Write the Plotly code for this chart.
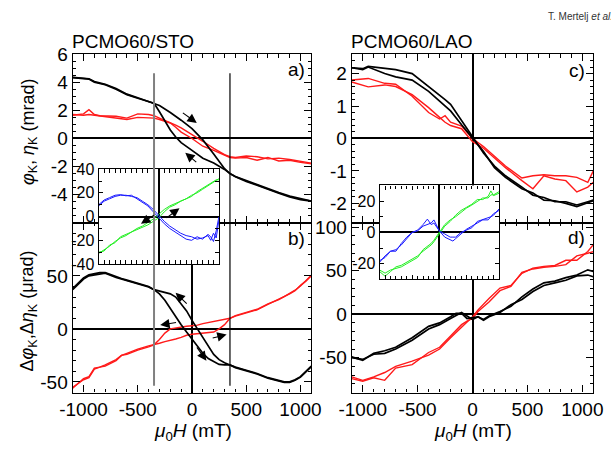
import plotly.graph_objects as go

# ---------------- data ----------------
# a) PCMO60/STO Kerr rotation (black) and ellipticity (red), mrad
H_A = [-1100, -1000, -950, -900, -850, -800, -700, -600, -500, -400, -350, -300, -200, -150,
       -100, 0, 100, 200, 300, 350, 400, 500, 600, 700, 800, 900, 1000, 1100]
phiA_up = [4.35, 4.28, 4.25, 4.05, 3.95, 3.85, 3.55, 3.15, 2.9, 2.65, 2.5, 2.35, 1.85, 1.6,
           1.3, 0.7, -0.1, -1.1, -2.15, -2.5, -2.7, -3.0, -3.3, -3.55, -3.85, -4.1, -4.3, -4.45]
phiA_dn = [4.32, 4.26, 4.22, 4.0, 3.92, 3.82, 3.5, 3.12, 2.86, 2.62, 2.5, 1.9, 0.6, 0.1,
           -0.3, -0.85, -1.4, -1.75, -2.2, -2.5, -2.72, -3.05, -3.35, -3.6, -3.9, -4.15, -4.35, -4.45]
etaA_up = [1.65, 1.75, 2.05, 1.7, 1.62, 1.6, 1.58, 1.45, 1.75, 1.7, 1.62, 1.45, 1.15, 0.95,
           0.75, 0.3, -0.2, -0.7, -1.15, -1.3, -1.35, -1.25, -1.3, -1.45, -1.4, -1.5, -1.6, -1.75]
etaA_dn = [1.7, 1.65, 1.7, 1.65, 1.6, 1.55, 1.5, 1.35, 1.5, 1.45, 1.45, 1.35, 1.1, 0.8,
           0.45, 0.0, -0.55, -0.85, -1.2, -1.35, -1.4, -1.35, -1.55, -1.35, -1.6, -1.55, -1.7, -1.8]

# b) PCMO60/STO differences, urad
H_B = [-1100, -1000, -950, -900, -850, -800, -700, -650, -600, -500, -400, -350, -300, -250,
       -200, -150, -100, -50, 0, 50, 100, 150, 200, 250, 300, 350, 400, 500, 600, 700, 800,
       850, 900, 950, 1000, 1050, 1100]
dphiB_up = [38, 48, 51, 52, 53, 53, 49, 47.5, 46, 43, 40, 37, 35.5, 34,
            33, 30, 24, 17, 8, 0, -9, -16, -24, -29, -32, -34, -36, -39, -42, -46, -49,
            -50, -50, -48, -45, -40, -35]
dphiB_dn = [37, 47, 50, 51, 52, 52.5, 48.5, 47, 45, 42.5, 39.5, 37, 33, 27,
            19, 12, 4, -3, -10, -17, -23, -28, -31, -33.5, -34, -34, -36.5, -39.5, -42.5, -46.5, -49.5,
            -50.5, -50.5, -48.5, -45.5, -40.5, -35.5]
detaB_up = [-55, -48, -46, -38, -36, -35, -30, -25, -24, -20, -17, -15, -10, -4,
            0, 1, 2, 2.5, 3, 3.5, 5, 6, 7, 8, 9.5, 10, 12, 15, 18, 23, 28,
            30, 33, 36, 41, 45, 50]
detaB_dn = [-56, -47, -45, -37, -36, -34, -29, -25, -23, -19, -16, -15, -13.5, -12,
            -11, -9.5, -8, -6, -5, -4.5, -4, -3.5, -3, 0, 4, 10, 12.5, 15.5, 18.5, 23.5, 27.5,
            30.5, 33.5, 36.5, 40.5, 45.5, 50.5]

# c) PCMO60/LAO Kerr rotation (black) and ellipticity (red), mrad
H_C = [-1100, -1000, -950, -800, -700, -550, -400, -300, -250, -200, -100, 0, 100, 200, 300,
       450, 550, 650, 750, 850, 950, 1050, 1100]
phiC_up = [2.18, 2.15, 2.22, 2.15, 2.12, 2.0, 1.6, 1.35, 1.2, 1.05, 0.55, 0.02, -0.45, -0.85, -1.15,
           -1.5, -1.75, -1.82, -1.95, -1.95, -2.05, -1.95, -1.9]
phiC_dn = [2.18, 2.12, 2.2, 2.0, 1.9, 1.8, 1.45, 1.15, 1.0, 0.85, 0.42, 0.0, -0.4, -0.9, -1.2,
           -1.55, -1.68, -1.9, -1.92, -2.0, -2.1, -1.98, -1.92]
etaC_up = [1.8, 1.82, 1.85, 1.7, 1.67, 1.3, 0.8, 0.6, 0.7, 0.5, 0.38, 0.0, -0.25, -0.55, -0.85,
           -1.22, -1.15, -1.12, -1.15, -1.15, -1.2, -1.35, -1.0]
etaC_dn = [1.74, 1.65, 1.59, 1.65, 1.6, 1.35, 0.95, 0.65, 0.5, 0.4, 0.3, -0.1, -0.3, -0.6, -0.9,
           -1.3, -1.55, -1.15, -1.25, -1.3, -1.65, -1.5, -1.35]

# d) PCMO60/LAO differences, urad
H_D = [-1100, -1000, -900, -800, -700, -550, -400, -300, -200, -150, -100, -50, 0, 50, 100,
       150, 250, 350, 450, 550, 650, 750, 850, 950, 1050, 1100]
dphiD_up = [-49, -53, -45, -42, -38, -27, -14, -10, -3, 1, 1, -5, -4, -3, -6,
            -2, 3, 9, 20, 29, 36, 38, 42, 45, 51, 49]
dphiD_dn = [-50, -52, -46, -45, -40, -30, -17, -12, -5, -1, 2, -2, -6, -3, -7,
            -3, 2, 11, 17, 26, 33, 36, 39, 44, 45, 43]
detaD_up = [-72, -76, -72, -67, -60, -54, -47, -40, -27, -21, -15, -9, -3, 5, 12,
            18, 30, 33, 47, 53, 55, 56, 62, 62, 72, 80]
detaD_dn = [-74, -77, -73, -76, -62, -58, -44, -38, -25, -19, -12, -8, -5, 3, 8,
            14, 27, 32, 48, 52, 54, 55, 57, 67, 70, 72]

# inset of a/b (green and blue components), urad
H_IL = [-1100, -1000, -900, -800, -700, -600, -500, -400, -300, -200, -100, 0, 100, 200, 300,
        400, 500, 600, 700, 800, 900, 950, 1000, 1050, 1100]
grnL_up = [-31, -28, -25, -21, -18, -16, -13, -10, -8, -5, -2, 2, 6, 9, 11,
           13, 15, 18, 20, 23, 26, 27, 29, 30, 32]
grnL_dn = [-30, -29, -24, -22, -17, -15, -13, -11, -9, -7, -4, -1, 4, 8, 10,
           13, 15, 17, 21, 24, 27, 28, 30, 31, 31]
bluL_up = [9, 13, 15, 17, 18, 18, 17, 16, 13, 10, 6, 1, -4, -8, -11,
           -14, -16, -17, -19, -18, -16, -20, -14, -18, -3]
bluL_dn = [10, 14, 16, 18, 18.5, 17.5, 18, 15, 12, 9, 4, -1, -6, -10, -13,
           -16, -19, -20, -17, -19, -15, -17, -21, -12, 0]

# inset of c/d
H_IR = [-1100, -1000, -900, -800, -700, -600, -500, -400, -300, -220, -150, -100, 0, 100, 200,
        250, 300, 400, 500, 600, 700, 800, 900, 950, 1000, 1100]
grnR_up = [-24, -26, -24, -23, -22, -20, -18, -16, -11, -9, -7, -5, 0, 5, 8,
           9, 11, 14, 16, 18, 21, 21, 23, 26.5, 23.5, 25]
grnR_dn = [-25, -28, -25, -22, -21, -19, -17, -15, -12, -10, -8, -6, -1, 4, 7,
           9, 10, 13, 15.5, 17.5, 20, 22, 22, 24, 24, 26]
bluR_up = [-19, -15, -12, -11, -8, -4, 0, 1.5, 5, 8.5, 5, 6, 1, -1, -3,
           -3, -3, 0, 1.5, 3, 7, 8, 9, 10, 11, 15]
bluR_dn = [-18, -16, -12, -12, -7, -3, 0, 1, 4, 5, 6, 8, 1, -3, -5,
           -5.5, -4, -1, 2, 4, 6, 8, 8, 10, 12, 14]

# tick values
X_TICKS = [-1000, -500, 0, 500, 1000]
YA_TICKS = [-4, -2, 0, 2, 4, 6]
YB_TICKS = [-50, 0, 50]
YC_TICKS = [-2, -1, 0, 1, 2]
YD_TICKS = [-50, 0, 50, 100]
YIL_TICKS = [-40, -20, 0, 20, 40]
YIR_TICKS = [-20, 0, 20]

# ---------------- figure ----------------
W, H = 611, 460
FONT = "Liberation Sans, Arial, sans-serif"
RED = "#ff1a1a"
GREEN = "#22ee22"
BLUE = "#1a1aff"
TICK_SIZE = 19
INSET_TICK_SIZE = 16


def dom_x(x0, x1):
    return [x0 / W, x1 / W]


def dom_y(y_top, y_bot):
    return [1 - y_bot / H, 1 - y_top / H]


def axis(rng, ticks, dom, anchor, minor_dt, labels=True, size=TICK_SIZE, zl=False, major_len=7):
    return dict(
        range=rng, domain=dom, anchor=anchor,
        tickmode="array", tickvals=ticks, ticktext=[str(t) for t in ticks],
        showticklabels=labels,
        tickfont=dict(family=FONT, size=size, color="black"),
        showline=True, linecolor="black", linewidth=1.3, mirror="ticks",
        ticks="inside", ticklen=major_len, tickwidth=1.1, tickcolor="black",
        minor=dict(ticks="inside", ticklen=3.5, tickwidth=1, tickcolor="black",
                   dtick=minor_dt, tick0=0, showgrid=False),
        showgrid=False, zeroline=zl, zerolinecolor="black", zerolinewidth=1.5,
        fixedrange=True,
    )


fig = go.Figure()


def add(xs, ys, color, xa, ya, width):
    fig.add_trace(go.Scatter(x=xs, y=ys, mode="lines", xaxis=xa, yaxis=ya,
                             line=dict(color=color, width=width), showlegend=False,
                             hoverinfo="skip"))


add(H_A, etaA_up, RED, "x", "y", 1.4)
add(H_A, etaA_dn, RED, "x", "y", 1.4)
add(H_A, phiA_up, "black", "x", "y", 1.7)
add(H_A, phiA_dn, "black", "x", "y", 1.7)

add(H_B, detaB_up, RED, "x2", "y2", 1.4)
add(H_B, detaB_dn, RED, "x2", "y2", 1.4)
add(H_B, dphiB_up, "black", "x2", "y2", 1.7)
add(H_B, dphiB_dn, "black", "x2", "y2", 1.7)

add(H_C, etaC_up, RED, "x3", "y3", 1.4)
add(H_C, etaC_dn, RED, "x3", "y3", 1.4)
add(H_C, phiC_up, "black", "x3", "y3", 1.7)
add(H_C, phiC_dn, "black", "x3", "y3", 1.7)

add(H_D, detaD_up, RED, "x4", "y4", 1.4)
add(H_D, detaD_dn, RED, "x4", "y4", 1.4)
add(H_D, dphiD_up, "black", "x4", "y4", 1.7)
add(H_D, dphiD_dn, "black", "x4", "y4", 1.7)

add(H_IL, grnL_up, GREEN, "x5", "y5", 1.0)
add(H_IL, grnL_dn, GREEN, "x5", "y5", 1.0)
add(H_IL, bluL_up, BLUE, "x5", "y5", 1.0)
add(H_IL, bluL_dn, BLUE, "x5", "y5", 1.0)

add(H_IR, grnR_up, GREEN, "x6", "y6", 1.0)
add(H_IR, grnR_dn, GREEN, "x6", "y6", 1.0)
add(H_IR, bluR_up, BLUE, "x6", "y6", 1.0)
add(H_IR, bluR_dn, BLUE, "x6", "y6", 1.0)

XR = [-1100, 1100]
L_X = dom_x(62, 310)
R_X = dom_x(352, 603)
TOP_Y = dom_y(46, 222)
BOT_Y = dom_y(222, 399)

fig.update_layout(
    width=W, height=H,
    margin=dict(l=0, r=0, t=0, b=0),
    paper_bgcolor="white", plot_bgcolor="white",
    font=dict(family=FONT, color="black"),
    xaxis=axis(XR, X_TICKS, L_X, "y", 100, labels=False),
    yaxis=axis([-6, 6], YA_TICKS, TOP_Y, "x", 0.5, zl=True),
    xaxis2=axis(XR, X_TICKS, L_X, "y2", 100, zl=True),
    yaxis2=axis([-60, 100], YB_TICKS, BOT_Y, "x2", 10, zl=True),
    xaxis3=axis(XR, X_TICKS, R_X, "y3", 100, labels=False, zl=True),
    yaxis3=axis([-2.6, 2.6], YC_TICKS, TOP_Y, "x3", 0.2, zl=True),
    xaxis4=axis(XR, X_TICKS, R_X, "y4", 100, zl=True),
    yaxis4=axis([-90, 105], YD_TICKS, BOT_Y, "x4", 10, zl=True),
    xaxis5=axis(XR, X_TICKS, dom_x(89, 214), "y5", 100, labels=False, zl=True, major_len=4),
    yaxis5=axis([-40, 40], YIL_TICKS, dom_y(166, 265), "x5", 10, size=INSET_TICK_SIZE, zl=True, major_len=4),
    xaxis6=axis(XR, X_TICKS, dom_x(381, 505), "y6", 100, labels=False, zl=True, major_len=4),
    yaxis6=axis([-30, 30], YIR_TICKS, dom_y(183, 281), "x6", 10, size=INSET_TICK_SIZE, zl=True, major_len=4),
)

# field markers at +/-350 mT spanning panels a and b
fig.add_shape(type="line", xref="x", yref="paper", x0=-350, x1=-350,
              y0=1 - 392 / H, y1=1 - 66 / H, line=dict(color="#808080", width=2.0), layer="above")
fig.add_shape(type="line", xref="x", yref="paper", x0=350, x1=350,
              y0=1 - 392 / H, y1=1 - 66 / H, line=dict(color="black", width=1.2), layer="above")


def text(s, px, py, size=17, xanchor="center", angle=0, color="black"):
    fig.add_annotation(text=s, x=px / W, y=1 - py / H, xref="paper", yref="paper",
                       showarrow=False, xanchor=xanchor, yanchor="middle", textangle=angle,
                       font=dict(family=FONT, size=size, color=color))


text("PCMO60/STO", 59, 33, size=19, xanchor="left")
text("PCMO60/LAO", 349, 33, size=19, xanchor="left")
text("a)", 306, 62, size=19, xanchor="right")
text("b)", 306, 238, size=19, xanchor="right")
text("c)", 596, 63, size=19, xanchor="right")
text("d)", 596, 237, size=19, xanchor="right")
text("<i>μ</i><sub>0</sub><i>H</i> (mT)", 187, 440, size=19)
text("<i>μ</i><sub>0</sub><i>H</i> (mT)", 478, 440, size=19)
text("<i>φ</i><sub>K</sub>, <i>η</i><sub>K</sub> (mrad)", 17, 127, size=18, angle=-90)
text("Δ<i>φ</i><sub>K</sub>,Δ<i>η</i><sub>K</sub> (μrad)", 16, 314, size=18, angle=-90)
text("T. Mertelj <i>et al.</i>", 554, 7, size=10, xanchor="left", color="#333333")


def arrow(xa, ya, tail, head):
    fig.add_annotation(x=head[0], y=head[1], ax=tail[0], ay=tail[1],
                       xref=xa, yref=ya, axref=xa, ayref=ya, text="",
                       showarrow=True, arrowhead=2, arrowsize=1.7, arrowwidth=1.1,
                       arrowcolor="black")


# sweep direction arrows
arrow("x", "y", (-98, 1.9), (44, 1.1))
arrow("x", "y", (53, -1.77), (-62, -1.02))
arrow("x2", "y2", (-35, 22.5), (-151, 34))
arrow("x2", "y2", (-133, 6.3), (-293, 3.6))
arrow("x2", "y2", (177, -9), (319, -5.4))
arrow("x2", "y2", (35, -16), (133, -30))
arrow("x5", "y5", (-62, 2), (-326, -6))
arrow("x5", "y5", (114, -2), (378, 7))

fig.write_html("out.html")
